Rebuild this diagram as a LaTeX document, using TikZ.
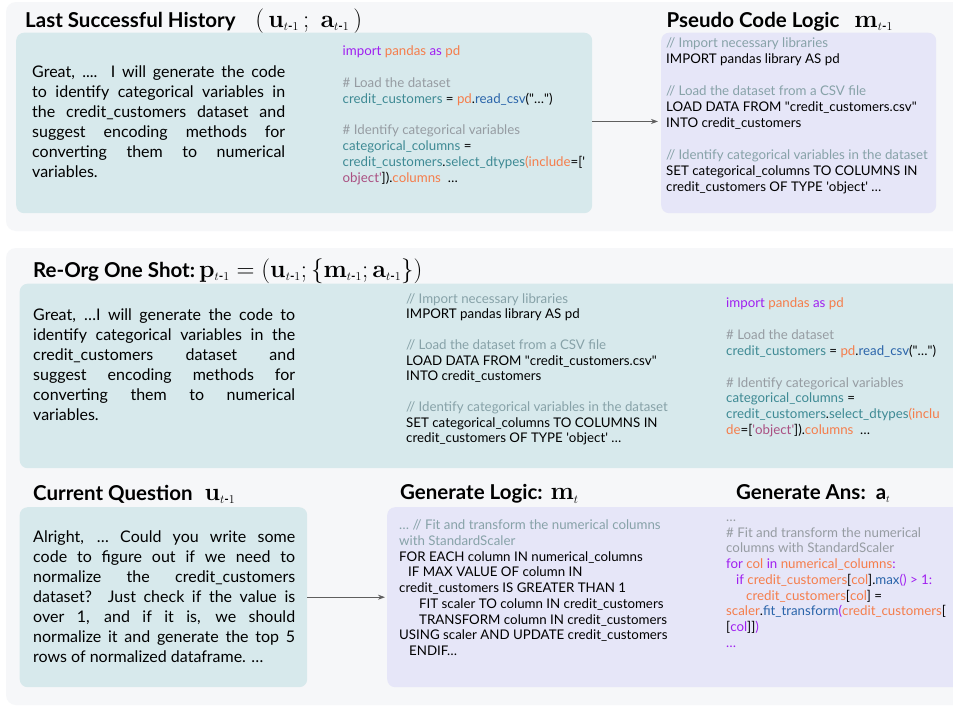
\documentclass[tikz,border=0pt]{standalone}
\usepackage{amsmath}
\usepackage[no-math]{fontspec}
\setmainfont{Lato}
\usepackage{xcolor}
\usetikzlibrary{positioning,arrows.meta}
\definecolor{panelbg}{RGB}{246,247,249}
\definecolor{answerbg}{RGB}{215,233,236}
\definecolor{logicbg}{RGB}{230,230,248}
\definecolor{keyword}{RGB}{160,32,240}
\definecolor{libname}{RGB}{245,125,75}
\definecolor{varname}{RGB}{62,138,148}
\definecolor{funcname}{RGB}{42,100,170}
\definecolor{comment}{RGB}{150,156,162}
\definecolor{pseudocomment}{RGB}{135,162,168}
\definecolor{strlit}{RGB}{170,80,130}
\definecolor{linkgray}{RGB}{95,95,95}

\newcommand{\kwd}[1]{\textcolor{keyword}{#1}}
\newcommand{\lib}[1]{\textcolor{libname}{#1}}
\newcommand{\vname}[1]{\textcolor{varname}{#1}}
\newcommand{\fname}[1]{\textcolor{funcname}{#1}}
\newcommand{\cmt}[1]{\textcolor{comment}{#1}}
\newcommand{\pcmt}[1]{\textcolor{pseudocomment}{#1}}
\newcommand{\strg}[1]{\textcolor{strlit}{#1}}
\newcommand{\sq}{\textquotesingle}
\newcommand{\dq}{\textquotedbl}
\newcommand{\tsub}[1]{\mathbf{#1}_{\scriptscriptstyle t\text{-}1}}
\newcommand{\mathbig}[1]{{\fontsize{24}{24}\selectfont$#1$}}

\begin{document}
\begin{tikzpicture}[x=1pt,y=-1pt,
  panel/.style={fill=panelbg, rounded corners=10pt},
  answerbox/.style={fill=answerbg, rounded corners=8pt, anchor=north west, inner sep=0pt},
  logicbox/.style={fill=logicbg, rounded corners=8pt, anchor=north west, inner sep=0pt},
  title/.style={anchor=base west, inner sep=0pt, font=\bfseries\fontsize{20.5}{24}\selectfont},
  prose/.style={anchor=north west, inner sep=0pt, align=justify,
    font=\fontsize{16}{20}\selectfont, execute at begin node={\rule{0pt}{14pt}}},
  code/.style={anchor=north west, inner sep=0pt, align=left,
    font=\fontsize{13.3}{15.8}\selectfont, execute at begin node={\rule{0pt}{12pt}}},
  link/.style={draw=linkgray, line width=0.8pt, -{Stealth[length=7pt,width=5pt]}}]
\useasboundingbox (0,0) rectangle (953,707);
\clip (0,0) rectangle (953,707);
\fill[white] (0,0) rectangle (953,707);
\fill[panel] (6,2) rectangle (970,231);
\fill[panel] (6,248) rectangle (970,705);

% last successful history
\node[title] (histtitle) at (25,27) {Last Successful History\hspace{20pt}\mathbig{(\,\tsub{u}\,;\;\tsub{a}\,)}};
\node[answerbox, minimum width=576pt, minimum height=180.5pt] (hist) at (16,32.5) {};
\node[prose, text width=253pt] (histtext) at (32,63) {Great, .... I will generate the code\linebreak
  to identify categorical variables in\linebreak the credit\_customers dataset and\linebreak
  suggest encoding methods for\linebreak converting them to numerical\linebreak variables.};
\node[code] (histcode) at (342.5,46) {\kwd{import} \lib{pandas} \kwd{as} \lib{pd}\\[15.8pt]
  \cmt{\# Load the dataset}\\
  \vname{credit\_customers} = \lib{pd}.\fname{read\_csv}(\dq…\dq)\\[15.8pt]
  \cmt{\# Identify categorical variables}\\
  \vname{categorical\_columns} =\\
  \vname{credit\_customers}.\vname{select\_dtypes}\lib{(include}=[\sq\\
  \strg{object\sq}]).\lib{columns}~ …};

% pseudo code logic
\node[title] (pseudotitle) at (666.5,27) {Pseudo Code Logic\hspace{15pt}\mathbig{\tsub{m}}};
\node[logicbox, minimum width=275pt, minimum height=180.5pt] (pseudo) at (661,32.5) {};
\node[code, font=\fontsize{13.3}{16}\selectfont] (pseudocode) at (666,38) {\pcmt{// Import necessary libraries}\\
  IMPORT pandas library AS pd\\[16pt]
  \pcmt{// Load the dataset from a CSV file}\\
  LOAD DATA FROM \dq credit\_customers.csv\dq\\
  INTO credit\_customers\\[16pt]
  \pcmt{// Identify categorical variables in the dataset}\\
  SET categorical\_columns TO COLUMNS IN\\
  credit\_customers OF TYPE \sq object\sq{} …};

\draw[link, shorten >=3pt] ([yshift=1.5pt]hist.east) -- ([yshift=1.5pt]pseudo.west);

% re-org one shot
\node[title] (reorgtitle) at (33,277) {Re-Org One Shot:\hspace{4pt}\mathbig{\tsub{p}=(\tsub{u};\{\tsub{m};\tsub{a}\})}};
\node[answerbox, minimum width=950pt, minimum height=184.5pt] (reorg) at (19.5,283.5) {};
\node[prose, text width=262pt] (reorgtext) at (33,306) {Great, …I will generate the code to\linebreak
  identify categorical variables in the\linebreak credit\_customers dataset and\linebreak
  suggest encoding methods for\linebreak converting them to numerical\linebreak variables.};
\node[code, font=\fontsize{13.3}{15.5}\selectfont] (reorglogic) at (406,293) {\pcmt{// Import necessary libraries}\\
  IMPORT pandas library AS pd\\[15.5pt]
  \pcmt{// Load the dataset from a CSV file}\\
  LOAD DATA FROM \dq credit\_customers.csv\dq\\
  INTO credit\_customers\\[15.5pt]
  \pcmt{// Identify categorical variables in the dataset}\\
  SET categorical\_columns TO COLUMNS IN\\
  credit\_customers OF TYPE \sq object\sq{} …};
\node[code, font=\fontsize{13.3}{15.9}\selectfont] (reorgcode) at (726,297.5) {\kwd{import} \lib{pandas} \kwd{as} \lib{pd}\\[15.9pt]
  \cmt{\# Load the dataset}\\
  \vname{credit\_customers} = \lib{pd}.\fname{read\_csv}(\dq…\dq)\\[15.9pt]
  \cmt{\# Identify categorical variables}\\
  \vname{categorical\_columns} =\\
  \vname{credit\_customers}.\vname{select\_dtypes}\lib{(inclu}\\
  \lib{de}=[\strg{\sq object\sq}]).\lib{columns}~ …};

% current question
\node[title] (questiontitle) at (33,500) {Current Question\hspace{12pt}\mathbig{\tsub{u}}};
\node[answerbox, minimum width=287.5pt, minimum height=180pt] (question) at (19.5,507) {};
\node[prose, text width=262pt] (questiontext) at (33,528) {Alright, … Could you write some\linebreak
  code to figure out if we need to\linebreak normalize the credit\_customers\linebreak
  dataset? Just check if the value is\linebreak over 1, and if it is, we should\linebreak
  normalize it and generate the top 5\linebreak rows of normalized dataframe. …};

% generate logic and answer
\node[title] (logictitle) at (400,499.5) {Generate Logic:\hspace{8pt}\mathbig{\mathbf{m}_{\scriptscriptstyle t}}};
\node[title] (anstitle) at (736,499.5) {Generate Ans:\hspace{10pt}a$_{\scriptscriptstyle t}$};
\node[logicbox, minimum width=580pt, minimum height=180pt] (logic) at (387,507) {};
\node[code, font=\fontsize{13.3}{15.75}\selectfont] (logiccode) at (399,519.5) {\pcmt{… // Fit and transform the numerical columns}\\
  \pcmt{with StandardScaler}\\
  FOR EACH column IN numerical\_columns\\
  \hspace*{9pt}IF MAX VALUE OF column IN\\
  credit\_customers IS GREATER THAN 1\\
  \hspace*{20pt}FIT scaler TO column IN credit\_customers\\
  \hspace*{20pt}TRANSFORM column IN credit\_customers\\
  USING scaler AND UPDATE credit\_customers\\
  \hspace*{10pt}ENDIF…};
\node[code, font=\fontsize{13.3}{15.75}\selectfont] (anscode) at (726,519.7) {\cmt{…}\\
  \cmt{\# Fit and transform the numerical}\\
  \cmt{columns with StandardScaler}\\
  \kwd{for} \lib{col} \kwd{in} \lib{numerical\_columns}\kwd{:}\\
  \hspace*{10pt}\kwd{if} \lib{credit\_customers}[\lib{col}].\fname{max}\kwd{() > 1:}\\
  \hspace*{20pt}\lib{credit\_customers}[\lib{col}] =\\
  \lib{scaler}.\fname{fit\_transform}\kwd{(}\lib{credit\_customers}{[}\\
  {[}\kwd{col}]]\kwd{)}\\
  \kwd{…}};

\draw[link, shorten >=2pt] (question.east) -- (logic.west);
\end{tikzpicture}
\end{document}
